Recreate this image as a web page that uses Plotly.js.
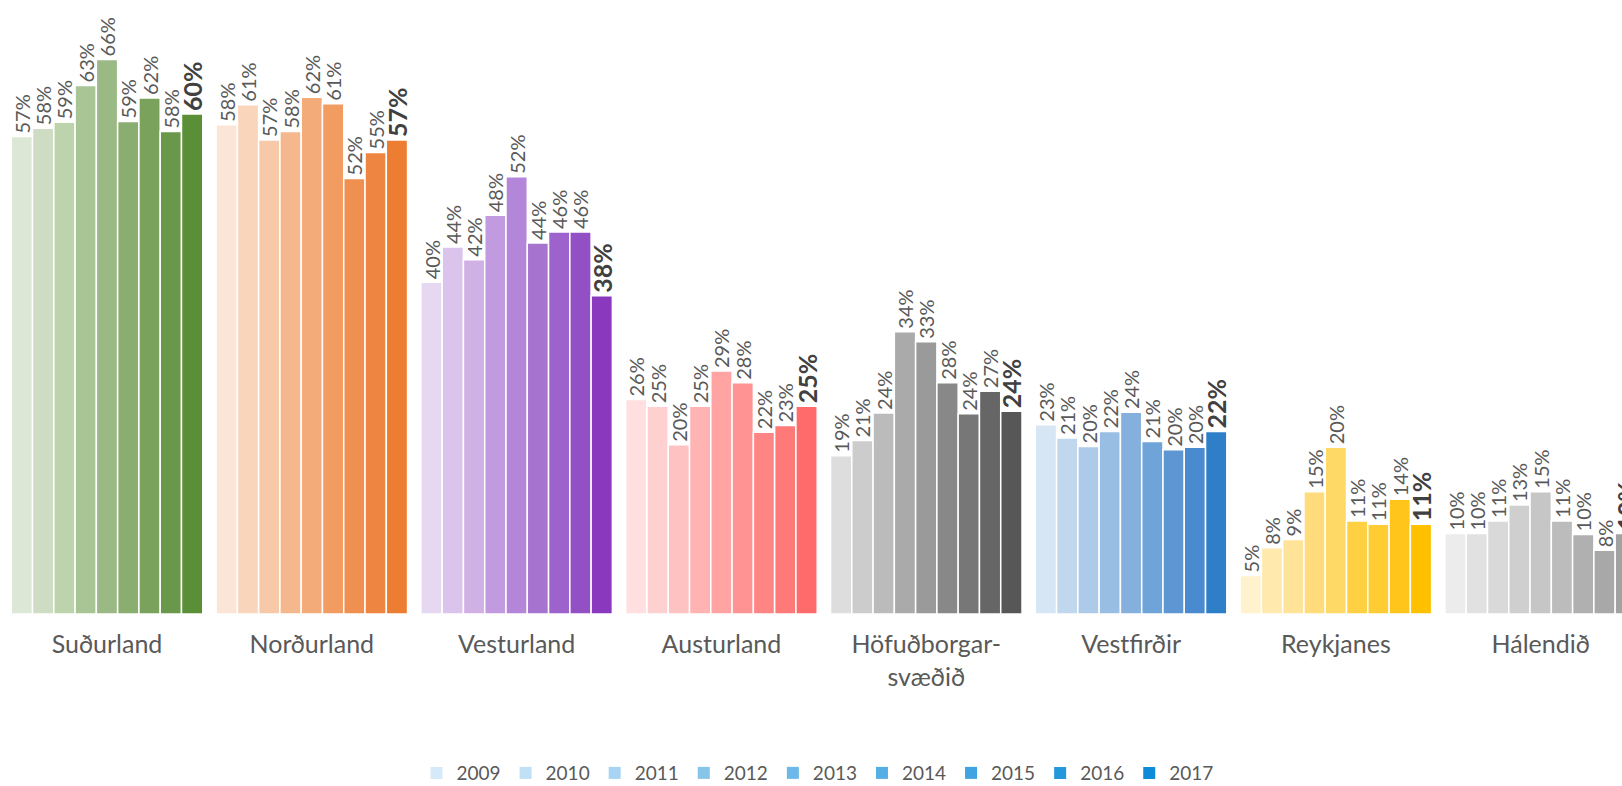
<!DOCTYPE html>
<html>
<head>
<meta charset="utf-8">
<script src="https://cdn.plot.ly/plotly-3.0.1.min.js"></script>
<style>
  html, body { margin: 0; padding: 0; background: #ffffff; }
  #chart { width: 1622px; height: 786px; }
</style>
</head>
<body>
<div id="chart"></div>
<script>
// ---- data ----
const years = ['2009','2010','2011','2012','2013','2014','2015','2016','2017'];
const regions = ['Suðurland','Norðurland','Vesturland','Austurland','Höfuðborgar-<br>svæðið','Vestfirðir','Reykjanes','Hálendið'];

const sudurland   = [57.0, 58.0, 58.7, 63.1, 66.2, 58.8, 61.6, 57.6, 59.7];
const nordurland  = [58.4, 60.8, 56.6, 57.6, 61.7, 60.9, 52.0, 55.1, 56.6];
const vesturland  = [39.6, 43.8, 42.3, 47.6, 52.2, 44.3, 45.6, 45.6, 38.0];
const austurland  = [25.6, 24.8, 20.2, 24.8, 29.0, 27.6, 21.7, 22.5, 24.8];
const hofudborg   = [18.9, 20.7, 24.0, 33.7, 32.5, 27.6, 23.9, 26.6, 24.2];
const vestfirdir  = [22.6, 21.0, 20.0, 21.8, 24.1, 20.6, 19.6, 19.9, 21.8];
const reykjanes   = [4.6, 7.9, 8.9, 14.6, 19.9, 11.1, 10.7, 13.7, 10.7];
const halendid    = [9.6, 9.6, 11.1, 13.0, 14.6, 11.1, 9.5, 7.6, 9.6];

const regionValues = [sudurland, nordurland, vesturland, austurland, hofudborg, vestfirdir, reykjanes, halendid];

// colours per region (light -> dark, one per year)
const greens  = ['#dce8d5','#cddcc2','#bdd3ab','#a9c595','#9ab985','#8aad70','#7aa25d','#6a984b','#5b8f37'];
const oranges = ['#fbe5d6','#f9d5bc','#f7c9a8','#f5b88e','#f3ab7a','#f29c62','#f09050','#ee8641','#ed7d31'];
const purples = ['#e5d8f0','#dac4eb','#d1b1e5','#c29adf','#b486d9','#a674cf','#9d62cb','#9350c5','#8a39bf'];
const reds    = ['#ffdfe0','#ffd0d0','#ffc2c2','#ffb3b3','#ffa3a3','#ff9393','#ff8585','#ff7979','#ff6b6b'];
const grays   = ['#dddddd','#cccccc','#bbbbbb','#aaaaaa','#9a9a9a','#888888','#777777','#666666','#575757'];
const blues   = ['#d6e6f5','#c0d7ee','#adcbe9','#98bfe3','#85b0dd','#6fa4d8','#5e96d3','#4a8ace','#2f7ec8'];
const yellows = ['#fff2cc','#ffe9ad','#ffe399','#ffdb7c','#ffd966','#ffd042','#ffcc33','#ffc51b','#ffc000'];
const lgrays  = ['#ececec','#e1e1e1','#d9d9d9','#cfcfcf','#c6c6c6','#bcbcbc','#b0b0b0','#a8a8a8','#a2a2a2'];
const regionColors = [greens, oranges, purples, reds, grays, blues, yellows, lgrays];

const legendColors = ['#d5e9f8','#bfe0f5','#a6d4f2','#86c4ea','#6cb8e8','#55aee4','#3fa4e1','#2598dc','#0d8bd8'];

// ---- traces ----
const FONT = 'Lato, "Open Sans", sans-serif';
const traces = [];
years.forEach((yr, j) => {
  const yv = regionValues.map(r => r[j]);
  const last = j === years.length - 1;
  traces.push({
    type: 'bar',
    name: yr,
    x: regions,
    y: yv,
    text: yv.map(v => Math.round(v) + '%'),
    textposition: 'outside',
    textangle: -90,
    constraintext: 'none',
    cliponaxis: true,
    textfont: last
      ? {family: FONT, size: 25, color: '#404040', weight: 'bold'}
      : {family: FONT, size: 20, color: '#595959'},
    marker: {color: regionColors.map(c => c[j]), line: {color: '#ffffff', width: 1.5}},
    showlegend: false,
    hoverinfo: 'skip'
  });
});
// legend entries (blue swatches) on hidden axes
years.forEach((yr, j) => {
  traces.push({
    type: 'bar', name: yr, x: [0], y: [0],
    xaxis: 'x2', yaxis: 'y2',
    marker: {color: legendColors[j], line: {width: 0}},
    showlegend: true, hoverinfo: 'skip'
  });
});

const layout = {
  width: 1622, height: 786,
  margin: {l: 0, r: 0, t: 0, b: 172, autoexpand: false},
  paper_bgcolor: '#ffffff', plot_bgcolor: '#ffffff',
  barmode: 'group',
  bargap: 0.065,
  bargroupgap: 0,
  font: {family: FONT, color: '#595959'},
  xaxis: {
    type: 'category',
    range: [-0.5225, 7.397],
    showgrid: false, zeroline: false, showline: false,
    ticks: '', ticklabelstandoff: 13,
    tickfont: {family: FONT, size: 25, color: '#595959'},
    automargin: false,
    fixedrange: true
  },
  yaxis: {
    range: [0, 73.3],
    visible: false, showgrid: false, zeroline: false,
    automargin: false,
    fixedrange: true
  },
  xaxis2: {overlaying: 'x', visible: false, range: [5, 6]},
  yaxis2: {overlaying: 'y', visible: false, range: [5, 6]},
  legend: {
    orientation: 'h',
    x: 0.504, xanchor: 'center',
    yref: 'container',
    y: 0.0165, yanchor: 'middle',
    font: {family: FONT, size: 19, color: '#595959'},
    traceorder: 'normal'
  },
  showlegend: true
};

Plotly.newPlot('chart', traces, layout, {displayModeBar: false, staticPlot: true});
</script>
</body>
</html>
